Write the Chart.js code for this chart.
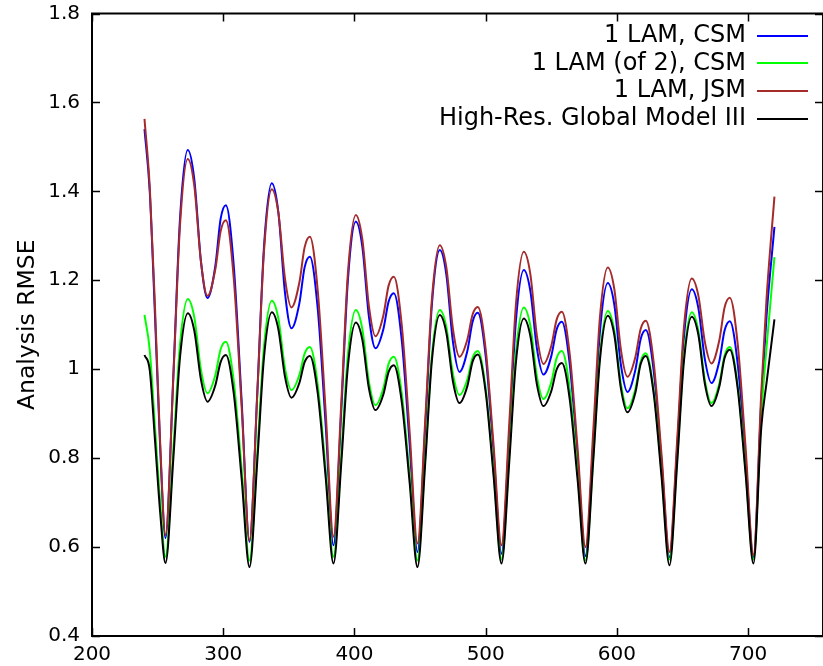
<!DOCTYPE html>
<html lang="en">
<head>
  <meta charset="UTF-8" />
  <title>Analysis RMSE</title>
  <script src="https://cdn.jsdelivr.net/npm/chart.js"></script>
  <style>
    body { margin: 0; background: #fff; }
  </style>
</head>
<body>
  <canvas id="chart" width="823" height="666"></canvas>

<script>
/* ---- data ---- */
const xs = [240,244,248,252,
  256,262,267,273,278,283,288,294,298,302,308,314,
  320,326,331,337,342,347,352,358,362,366,372,378,
  384,390,395,401,406,411,416,422,426,430,436,442,
  448,454,459,465,470,475,480,486,490,494,500,506,
  512,518,523,529,534,539,544,550,554,558,564,570,
  576,582,587,593,598,603,608,614,618,622,628,634,
  640,646,651,657,662,667,672,678,682,686,692,698,
  704,710,714,720];

const lamCsm = [1.54,1.40,1.12,0.82,
  0.62,0.987,1.336,1.493,1.426,1.243,1.16,1.233,1.338,1.369,1.233,0.930,
  0.612,0.951,1.273,1.418,1.353,1.173,1.092,1.148,1.229,1.253,1.136,0.877,
  0.604,0.910,1.201,1.332,1.275,1.118,1.047,1.090,1.152,1.171,1.066,0.833,
  0.589,0.874,1.146,1.268,1.213,1.062,0.994,1.041,1.107,1.127,1.029,0.813,
  0.585,0.853,1.108,1.223,1.176,1.047,0.988,1.030,1.089,1.107,1.012,0.801,
  0.58,0.838,1.083,1.194,1.145,1.010,0.949,0.998,1.067,1.088,0.996,0.792,
  0.577,0.830,1.071,1.18,1.138,1.022,0.969,1.018,1.087,1.108,1.012,0.800,
  0.577,0.93,1.12,1.32];

const lamOf2Csm = [1.122,1.043,0.87,0.70,
  0.578,0.822,1.054,1.158,1.116,0.999,0.946,0.987,1.045,1.062,0.973,0.777,
  0.57,0.815,1.049,1.154,1.114,1.003,0.953,0.987,1.035,1.05,0.965,0.776,
  0.578,0.811,1.033,1.133,1.090,0.972,0.919,0.957,1.012,1.028,0.946,0.762,
  0.57,0.806,1.032,1.133,1.095,0.990,0.942,0.977,1.026,1.041,0.957,0.769,
  0.572,0.810,1.037,1.139,1.098,0.984,0.933,0.971,1.025,1.041,0.956,0.768,
  0.57,0.806,1.030,1.131,1.087,0.967,0.912,0.955,1.017,1.036,0.952,0.767,
  0.572,0.806,1.028,1.128,1.087,0.975,0.924,0.968,1.031,1.05,0.964,0.773,
  0.572,0.90,1.05,1.252];

const lamJsm = [1.563,1.41,1.14,0.83,
  0.627,0.982,1.321,1.473,1.411,1.242,1.165,1.225,1.310,1.335,1.205,0.917,
  0.615,0.947,1.263,1.405,1.352,1.205,1.139,1.195,1.274,1.298,1.177,0.907,
  0.623,0.927,1.217,1.347,1.292,1.142,1.074,1.121,1.188,1.208,1.100,0.860,
  0.608,0.890,1.158,1.279,1.229,1.091,1.028,1.067,1.123,1.14,1.044,0.829,
  0.604,0.881,1.145,1.264,1.214,1.075,1.012,1.053,1.111,1.129,1.034,0.822,
  0.6,0.864,1.116,1.229,1.180,1.044,0.983,1.027,1.090,1.109,1.015,0.807,
  0.589,0.847,1.093,1.204,1.166,1.061,1.013,1.065,1.139,1.161,1.057,0.825,
  0.582,0.95,1.16,1.388];

const globalIII = [1.032,0.998,0.84,0.676,
  0.564,0.800,1.025,1.126,1.086,0.977,0.927,0.964,1.016,1.032,0.946,0.755,
  0.555,0.796,1.025,1.128,1.090,0.984,0.936,0.969,1.016,1.03,0.946,0.759,
  0.563,0.791,1.007,1.105,1.066,0.957,0.908,0.943,0.994,1.009,0.927,0.746,
  0.555,0.793,1.020,1.122,1.082,0.973,0.924,0.962,1.017,1.033,0.948,0.760,
  0.563,0.794,1.015,1.114,1.075,0.966,0.917,0.951,0.999,1.014,0.933,0.752,
  0.563,0.797,1.020,1.12,1.077,0.957,0.903,0.947,1.011,1.03,0.945,0.757,
  0.559,0.794,1.017,1.118,1.078,0.967,0.917,0.961,1.025,1.044,0.957,0.765,
  0.563,0.87,0.97,1.112];

const labels = ['1 LAM, CSM', '1 LAM (of 2), CSM', '1 LAM, JSM', 'High-Res. Global Model III'];
const colors = ['#0000ff', '#00ff00', '#a52a2a', '#000000'];
const xTicks = [200, 300, 400, 500, 600, 700];
const yTicks = [0.4, 0.6, 0.8, 1.0, 1.2, 1.4, 1.6, 1.8];

/* ---- frame, inward ticks and gnuplot style key ---- */
const framePlugin = {
  id: 'frame',
  afterDraw(chart) {
    const { ctx, chartArea: a, scales: { x, y } } = chart;
    ctx.save();
    ctx.strokeStyle = '#000';
    ctx.lineWidth = 2;
    ctx.strokeRect(a.left, a.top, a.right - a.left, a.bottom - a.top);
    ctx.lineWidth = 1.5;
    ctx.beginPath();
    xTicks.forEach(v => {
      const px = Math.round(x.getPixelForValue(v)) + 0.5;
      ctx.moveTo(px, a.bottom); ctx.lineTo(px, a.bottom - 8);
      ctx.moveTo(px, a.top);    ctx.lineTo(px, a.top + 8);
    });
    yTicks.forEach(v => {
      const py = Math.round(y.getPixelForValue(v)) + 0.5;
      ctx.moveTo(a.left, py);  ctx.lineTo(a.left + 8, py);
      ctx.moveTo(a.right, py); ctx.lineTo(a.right - 8, py);
    });
    ctx.stroke();

    // key, top right
    ctx.font = '24px "DejaVu Sans"';
    ctx.textAlign = 'right';
    ctx.textBaseline = 'middle';
    chart.data.datasets.forEach((ds, i) => {
      const ry = a.top + 22 + i * 27.8;
      ctx.fillStyle = '#000';
      ctx.fillText(ds.label, a.right - 77, ry);
      ctx.strokeStyle = ds.borderColor;
      ctx.lineWidth = 2;
      ctx.beginPath();
      ctx.moveTo(a.right - 66, Math.round(ry));
      ctx.lineTo(a.right - 15, Math.round(ry));
      ctx.stroke();
    });
    ctx.restore();
  }
};

const series = [lamCsm, lamOf2Csm, lamJsm, globalIII];

Chart.defaults.font.family = '"DejaVu Sans"';
Chart.defaults.font.size = 20;
Chart.defaults.color = '#000';

new Chart(document.getElementById('chart'), {
  type: 'line',
  data: {
    datasets: series.map((s, i) => ({
      label: labels[i],
      data: xs.map((xv, j) => ({ x: xv, y: s[j] })),
      borderColor: colors[i],
      borderWidth: 2,
      pointRadius: 0,
      fill: false,
      cubicInterpolationMode: 'monotone',
      order: 4 - i
    }))
  },
  options: {
    responsive: false,
    animation: false,
    layout: { padding: { top: 13.5, right: 0, left: 0, bottom: 0 } },
    plugins: { legend: { display: false }, tooltip: { enabled: false } },
    scales: {
      x: {
        type: 'linear',
        min: 200, max: 757,
        afterBuildTicks: s => { s.ticks = xTicks.map(v => ({ value: v })); },
        afterFit: s => { s.height = 30; s.paddingLeft = 0; s.paddingRight = 0; },
        grid: { display: false, drawTicks: false },
        border: { display: false },
        ticks: { padding: 7, maxRotation: 0 }
      },
      y: {
        min: 0.4, max: 1.8,
        afterBuildTicks: s => { s.ticks = yTicks.map(v => ({ value: v })); },
        afterFit: s => { s.width = 92; s.paddingTop = 0; s.paddingBottom = 0; },
        grid: { display: false, drawTicks: false },
        border: { display: false },
        ticks: { padding: 12, callback: v => String(+v.toFixed(1)) },
        title: { display: true, text: 'Analysis RMSE', font: { size: 23.5 }, padding: { top: 14, bottom: 4 } }
      }
    }
  },
  plugins: [framePlugin]
});
</script>
</body>
</html>
